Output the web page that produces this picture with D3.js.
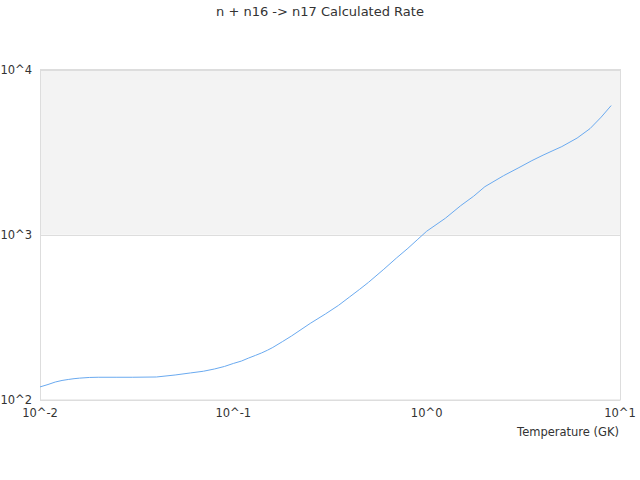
<!DOCTYPE html>
<html><head><meta charset="utf-8">
<script src="https://cdn.jsdelivr.net/npm/d3@7"></script>
<style>
body{margin:0;background:#fff;}
text{font-family:"DejaVu Sans",sans-serif;fill:#333;}
</style></head>
<body><svg id="c" width="640" height="480"></svg>
<script>
const temperatures = [0.01,0.011,0.012,0.013,0.014,0.015,0.016,0.018,0.02,0.025,0.03,0.04,0.05,0.06,0.07,0.08,0.09,0.1,0.11,0.12,0.13,0.14,0.15,0.16,0.18,0.2,0.25,0.3,0.35,0.4,0.45,0.5,0.6,0.7,0.8,0.9,1,1.25,1.5,1.75,2,2.5,3,3.5,4,4.5,5,6,7,8,9];
const rates = [120,124.1,128.5,131.3,133.1,134.6,135.6,136.9,137.3,137.3,137.3,137.8,141.7,145.8,149.3,154.1,159.6,166.4,172,179.5,186.1,192.7,200,208,226,244,290.9,332,373.9,421,467.4,515,618,725.5,828,939,1050,1259,1500,1711,1954,2278,2548,2808,3032,3230,3415,3846,4389,5155,6050];
const xTicks = [0.01,0.1,1,10];
const xTickLabels = ["10^-2","10^-1","10^0","10^1"];
const yTicks = [100,1000,10000];
const yTickLabels = ["10^2","10^3","10^4"];
const bands = [[1000,10000]];

const svg = d3.select("#c");
const L=40,R=620,T=69.5,B=400;
const x = d3.scaleLog().domain([0.01,10]).range([L,R]);
const y = d3.scaleLog().domain([100,10000]).range([B,T]);

svg.append("text").attr("x",320).attr("y",16).attr("text-anchor","middle")
  .style("font-size","13px").text("n + n16 -> n17 Calculated Rate");

bands.forEach(b=>{
  svg.append("rect").attr("x",L).attr("y",y(b[1])).attr("width",R-L)
    .attr("height",y(b[0])-y(b[1])).attr("fill","#f3f3f3");
});
svg.selectAll(".g").data(yTicks).enter().append("line")
  .attr("x1",L).attr("x2",R).attr("y1",d=>Math.round(y(d))+0.5).attr("y2",d=>Math.round(y(d))+0.5)
  .attr("stroke","#ddd");
svg.append("rect").attr("x",L+0.5).attr("y",T).attr("width",R-L).attr("height",B-T)
  .attr("fill","none").attr("stroke","#ddd");

svg.selectAll(".yl").data(yTicks).enter().append("text")
  .attr("x",32).attr("y",d=>y(d)+4).attr("text-anchor","end").style("font-size","11.5px")
  .text((d,i)=>yTickLabels[i]);
svg.selectAll(".xl").data(xTicks).enter().append("text")
  .attr("x",d=>x(d)).attr("y",417).attr("text-anchor","middle").style("font-size","11.5px")
  .text((d,i)=>xTickLabels[i]);
svg.append("text").attr("x",619).attr("y",436).attr("text-anchor","end")
  .style("font-size","11.5px").text("Temperature (GK)");

const line = d3.line().x((d,i)=>x(temperatures[i])).y(d=>y(d));
svg.append("path").datum(rates).attr("d",line).attr("fill","none")
  .attr("stroke","#6aaaf0").attr("stroke-width",1);
</script></body></html>
